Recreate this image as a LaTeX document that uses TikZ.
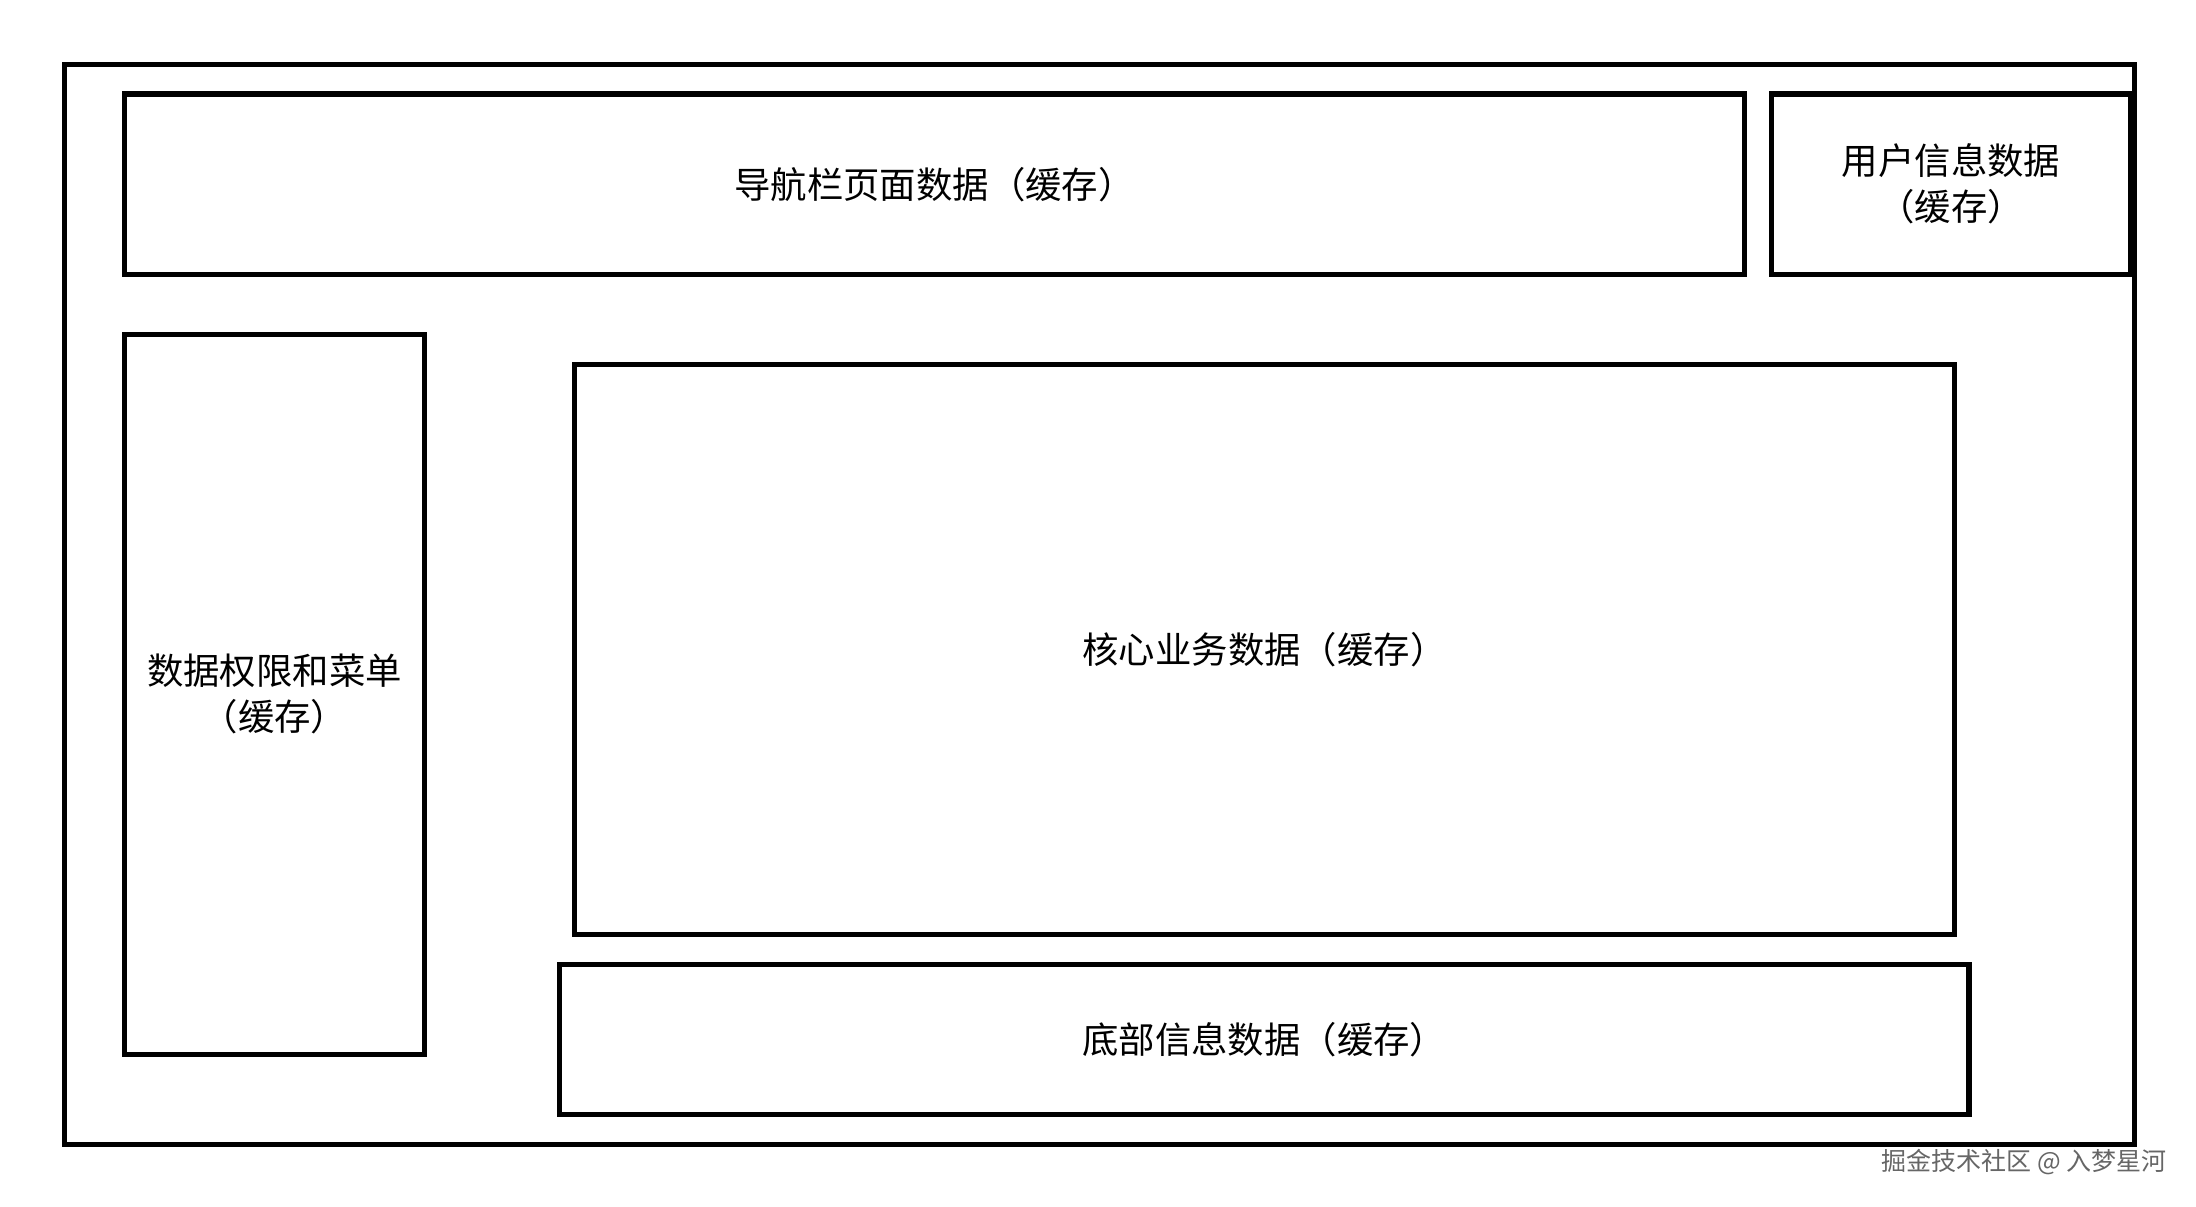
\documentclass[tikz,border=0pt]{standalone}
\usepackage{fontspec}
\setmainfont{Noto Sans CJK SC}
\usetikzlibrary{fit}
\begin{document}
\begin{tikzpicture}[x=0.5pt,y=-0.5pt,
  box/.style={draw=black,line width=2.6pt,inner sep=0pt},
  lbl/.style={font=\fontsize{18.2}{23}\selectfont,align=center,inner sep=0pt},
  wmark/.style={font=\fontsize{12.5}{14}\selectfont,text=black!60,inner sep=0pt}]
\fill[white] (0,0) rectangle (2196,1206);
\useasboundingbox (0,0) rectangle (2196,1206);
\node[box, fit={(64.5,64.5) (2134.7,1144.3)}] (page) {};
\node[box, fit={(124.5,94) (1744.5,274.5)}] (nav) {};
\node[box, fit={(1771.3,94) (2131,274.5)}] (user) {};
\node[box, fit={(124.5,334.5) (424.5,1054.3)}] (perm) {};
\node[box, fit={(574.5,364.5) (1954.5,934.5)}] (core) {};
\node[box, fit={(559.5,964.5) (1969,1114.3)}] (foot) {};
\node[lbl] (navtext) at (nav.center) {导航栏页面数据（缓存）};
\node[lbl] (usertext) at (user.center) {用户信息数据\\（缓存）};
\node[lbl] (permtext) at (perm.center) {数据权限和菜单\\（缓存）};
\node[lbl] (coretext) at (core.center) {核心业务数据（缓存）};
\node[lbl] (foottext) at (foot.center) {底部信息数据（缓存）};
\node[wmark] (wm) at (2024,1162) {掘金技术社区 @ 入梦星河};
\end{tikzpicture}
\end{document}
